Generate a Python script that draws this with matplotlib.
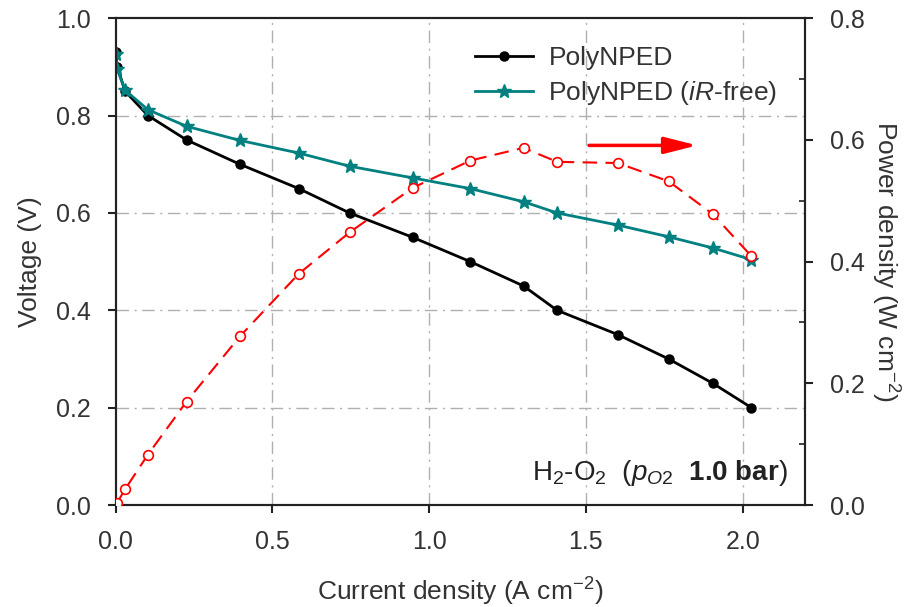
import matplotlib.pyplot as plt
from matplotlib.ticker import FormatStrFormatter, MultipleLocator

plt.rcParams['font.family'] = ['Liberation Sans', 'DejaVu Sans']
plt.rcParams['mathtext.fontset'] = 'custom'
plt.rcParams['mathtext.rm'] = 'Liberation Sans'
plt.rcParams['mathtext.it'] = 'Liberation Sans:italic'
plt.rcParams['mathtext.bf'] = 'Liberation Sans:bold'

# current density (A cm-2)
current = [0.0, 0.005, 0.03, 0.103, 0.226, 0.396, 0.584, 0.746, 0.947,
           1.131, 1.301, 1.408, 1.602, 1.764, 1.905, 2.028]
# cell voltage (V)
voltage = [0.93, 0.90, 0.85, 0.80, 0.75, 0.70, 0.65, 0.60, 0.55,
           0.50, 0.45, 0.40, 0.35, 0.30, 0.25, 0.20]
# iR-free voltage (V)
voltage_irfree = [0.927, 0.895, 0.852, 0.812, 0.778, 0.749, 0.723, 0.696, 0.672,
                  0.650, 0.623, 0.600, 0.575, 0.551, 0.528, 0.504]
# power density (W cm-2)
power = [0.0, 0.004, 0.026, 0.083, 0.170, 0.277, 0.380, 0.448, 0.521,
         0.566, 0.587, 0.564, 0.562, 0.532, 0.478, 0.409]

fig = plt.figure(figsize=(9.11, 6.07), dpi=100)
ax = fig.add_axes([0.127, 0.168, 0.757, 0.802])
ax2 = ax.twinx()

grid_style = dict(color='#b0b0b0', linestyle=(0, (9, 4, 1.5, 4)), linewidth=1.0)
for xv in [0.5, 1.0, 1.5, 2.0]:
    ax.axvline(xv, zorder=0, **grid_style)
for yv in [0.2, 0.4, 0.6, 0.8]:
    ax.axhline(yv, zorder=0, **grid_style)

ax.plot(current, voltage, color='black', lw=2, marker='o', ms=6.5,
        label='PolyNPED', zorder=3)
ax.plot(current, voltage_irfree, color='#008080', lw=2, marker='*', ms=10,
        label='PolyNPED ($\\mathit{iR}$-free)', zorder=3)
ax2.plot(current, power, color='red', lw=1.5, dashes=(7, 4), marker='o', ms=7,
         mfc='white', mec='red', mew=1.2, zorder=3)

ax2.annotate('', xy=(1.855, 0.591), xytext=(1.51, 0.591),
             arrowprops=dict(arrowstyle='-|>,head_length=1.1,head_width=0.28',
                             color='red', lw=2.5, mutation_scale=18,
                             shrinkA=0, shrinkB=0))

ax.set_xlim(0, 2.2)
ax.set_ylim(0, 1.0)
ax2.set_ylim(0, 0.8)
ax.set_xticks([0.0, 0.5, 1.0, 1.5, 2.0])
ax.set_yticks([0.0, 0.2, 0.4, 0.6, 0.8, 1.0])
ax2.set_yticks([0.0, 0.2, 0.4, 0.6, 0.8])
ax2.yaxis.set_minor_locator(MultipleLocator(0.1))
ax.xaxis.set_major_formatter(FormatStrFormatter('%.1f'))
ax.yaxis.set_major_formatter(FormatStrFormatter('%.1f'))
ax2.yaxis.set_major_formatter(FormatStrFormatter('%.1f'))

for a in (ax, ax2):
    for s in a.spines.values():
        s.set_linewidth(1.5)
        s.set_color('#222222')
    a.tick_params(labelsize=18, width=1.5, length=6, direction='out',
                  colors='#222222', labelcolor='#333333', pad=12)
ax2.tick_params(which='minor', direction='in', length=4, width=1.2, colors='#222222')

ax.set_xlabel('Current density (A cm$^{-2}$)', fontsize=19, color='#333333', labelpad=16)
ax.set_ylabel('Voltage (V)', fontsize=19, color='#333333', labelpad=10)
ax2.set_ylabel('Power density (W cm$^{-2}$)', fontsize=19, color='#333333',
               rotation=-90, labelpad=26)

ax.legend(loc='upper right', bbox_to_anchor=(0.975, 0.965), frameon=False,
          fontsize=19, handlelength=2.2, handletextpad=0.6, labelspacing=0.35,
          borderaxespad=0, labelcolor='#333333')

ax.text(0.975, 0.035, 'H$_2$-O$_2$  ($p_{\\mathit{O2}}$  $\\mathbf{1.0\\ bar}$)',
        transform=ax.transAxes, ha='right', va='bottom', fontsize=20, color='#222222')

fig.savefig('out.png', dpi=100)
